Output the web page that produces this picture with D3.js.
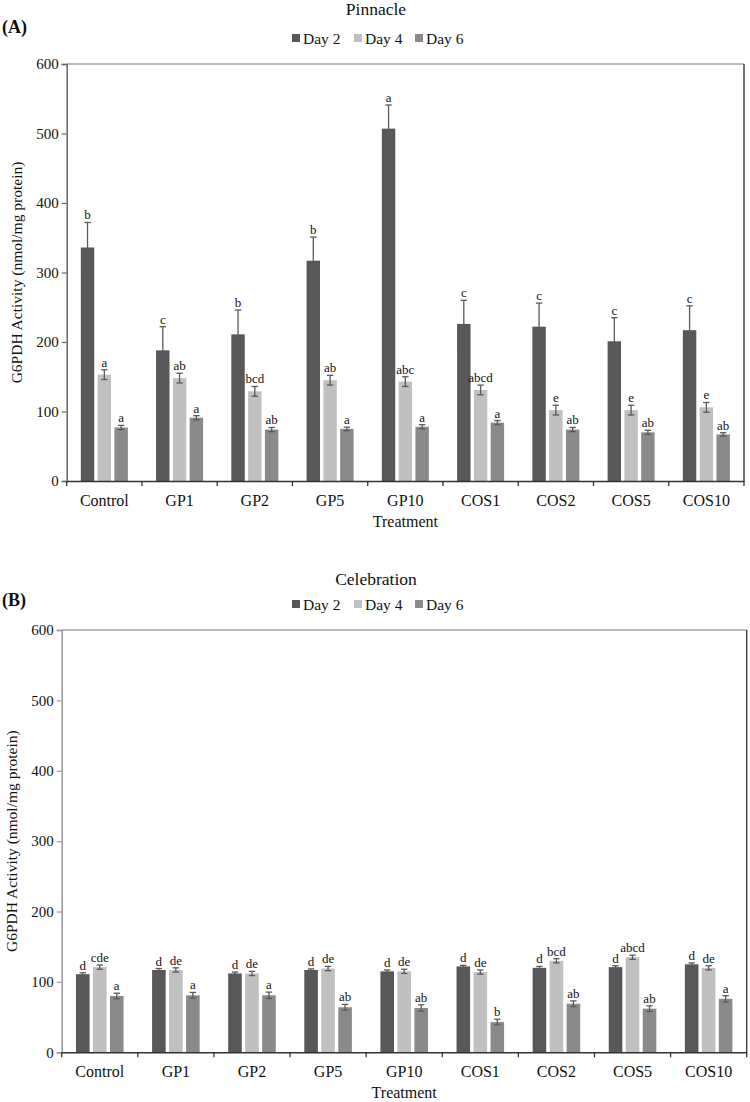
<!DOCTYPE html>
<html>
<head>
<meta charset="utf-8">
<script src="https://cdn.jsdelivr.net/npm/d3@7"></script>
<style>
  html, body { margin: 0; padding: 0; background: #fff; }
  svg { display: block; }
  text { font-family: "Liberation Serif", "Times New Roman", serif; fill: #111; }
</style>
</head>
<body>
<svg id="chart" width="750" height="1102"></svg>
<script>
// ---------- data ----------
const categories = ["Control", "GP1", "GP2", "GP5", "GP10", "COS1", "COS2", "COS5", "COS10"];
const series = ["Day 2", "Day 4", "Day 6"];
const yTicks = [0, 100, 200, 300, 400, 500, 600];

// Panel A: Pinnacle
const pinnacleDay2 = [336, 188, 211, 317, 507, 226, 222, 201, 217];
const pinnacleDay4 = [153, 148, 129, 145, 143, 131, 102, 102, 106];
const pinnacleDay6 = [77, 91, 74, 75, 78, 84, 74, 70, 67];
const pinnacleErr2 = [36, 34, 35, 34, 34, 34, 34, 34, 35];
const pinnacleErr4 = [7, 7, 7, 7, 7, 7, 7, 7, 7];
const pinnacleErr6 = [3, 3, 3, 2.5, 3, 3, 3, 3, 2.5];
const pinnacleLet2 = ["b", "c", "b", "b", "a", "c", "c", "c", "c"];
const pinnacleLet4 = ["a", "ab", "bcd", "ab", "abc", "abcd", "e", "e", "e"];
const pinnacleLet6 = ["a", "a", "ab", "a", "a", "a", "ab", "ab", "ab"];

// Panel B: Celebration
const celebrationDay2 = [111, 117, 112, 117, 115, 122, 120, 121, 125];
const celebrationDay4 = [121, 117, 112, 119, 115, 114, 130, 135, 120];
const celebrationDay6 = [80, 81, 81, 64, 63, 43, 69, 62, 76];
const celebrationErr2 = [2, 2, 2, 1.5, 2, 1.5, 2, 2, 2];
const celebrationErr4 = [3, 3, 3, 3, 3, 3, 3, 3, 3];
const celebrationErr6 = [4, 4, 4.5, 4, 4.5, 4, 4, 4, 4.5];
const celebrationLet2 = ["d", "d", "d", "d", "d", "d", "d", "d", "d"];
const celebrationLet4 = ["cde", "de", "de", "de", "de", "de", "bcd", "abcd", "de"];
const celebrationLet6 = ["a", "a", "a", "ab", "ab", "b", "ab", "ab", "a"];

const colors = ["#585858", "#c0c0c0", "#8a8a8a"];

// ---------- drawing ----------
const svg = d3.select("#chart");
const FONT = "Liberation Serif, Times New Roman, serif";

function buildRows(d2, d4, d6, e2, e4, e6, l2, l4, l6) {
  const vals = [d2, d4, d6], errs = [e2, e4, e6], lets = [l2, l4, l6];
  return categories.map((c, i) => ({
    cat: c,
    bars: series.map((s, j) => ({ s, j, v: vals[j][i], e: errs[j][i], l: lets[j][i] }))
  }));
}

function drawPanel(opt) {
  const { rows, left, right, top, bottom, title, tag, titleY, tagY, legendY, catY, xTitleY, yTitleX, axisColor } = opt;
  const g = svg.append("g");

  const x = d3.scaleBand().domain(categories).range([left, right]).padding(0);
  const xs = d3.scaleBand().domain(series).range([0, x.bandwidth()]).paddingInner(0.2).paddingOuter(0.84);
  const y = d3.scaleLinear().domain([0, 600]).range([bottom, top]);

  // frame top and right
  g.append("line").attr("x1", left).attr("x2", right).attr("y1", top).attr("y2", top)
    .attr("stroke", "#777").attr("stroke-width", 1.2);
  g.append("line").attr("x1", right).attr("x2", right).attr("y1", top).attr("y2", bottom)
    .attr("stroke", "#444").attr("stroke-width", 1.5);

  // y axis
  const ya = g.append("g").attr("transform", `translate(${left},0)`)
    .call(d3.axisLeft(y).tickValues(yTicks).tickSize(5).tickPadding(3).tickFormat(d3.format("d")));
  ya.select(".domain").attr("stroke", axisColor).attr("stroke-width", 1.5);
  ya.selectAll(".tick line").attr("stroke", axisColor).attr("stroke-width", 1.2);
  ya.selectAll(".tick text").style("font-size", "15px").style("font-family", FONT).attr("fill", "#111");

  // bars
  const grp = g.selectAll(".grp").data(rows).join("g").attr("transform", d => `translate(${x(d.cat)},0)`);
  grp.selectAll("rect").data(d => d.bars).join("rect")
    .attr("x", d => xs(d.s)).attr("width", xs.bandwidth())
    .attr("y", d => y(d.v)).attr("height", d => y(0) - y(d.v))
    .attr("fill", d => colors[d.j]);

  // error bars
  const cap = 3.2;
  const eb = grp.selectAll(".eb").data(d => d.bars).join("g").attr("class", "eb")
    .attr("stroke", "#5a5a5a").attr("stroke-width", 1.3);
  eb.append("line").attr("x1", d => xs(d.s) + xs.bandwidth() / 2).attr("x2", d => xs(d.s) + xs.bandwidth() / 2)
    .attr("y1", d => y(d.v + d.e)).attr("y2", d => y(d.v - d.e));
  eb.append("line").attr("x1", d => xs(d.s) + xs.bandwidth() / 2 - cap).attr("x2", d => xs(d.s) + xs.bandwidth() / 2 + cap)
    .attr("y1", d => y(d.v + d.e)).attr("y2", d => y(d.v + d.e));
  eb.append("line").attr("x1", d => xs(d.s) + xs.bandwidth() / 2 - cap).attr("x2", d => xs(d.s) + xs.bandwidth() / 2 + cap)
    .attr("y1", d => y(d.v - d.e)).attr("y2", d => y(d.v - d.e));

  // letters
  grp.selectAll(".let").data(d => d.bars).join("text").attr("class", "let")
    .attr("x", d => xs(d.s) + xs.bandwidth() / 2)
    .attr("y", d => y(d.v + d.e) - 3)
    .attr("text-anchor", "middle")
    .style("font-size", "13px")
    .text(d => d.l);

  // x axis
  const xa = g.append("g").attr("transform", `translate(0,${bottom})`)
    .call(d3.axisBottom(x).tickSize(0).tickFormat(() => ""));
  xa.select(".domain").attr("stroke", "#333").attr("stroke-width", 1.5);
  const bounds = categories.map(c => x(c)).concat([right]);
  g.selectAll(".bt").data(bounds).join("line").attr("class", "bt")
    .attr("x1", d => d).attr("x2", d => d).attr("y1", bottom).attr("y2", bottom + 5)
    .attr("stroke", "#333").attr("stroke-width", 1.3);
  g.selectAll(".cl").data(categories).join("text").attr("class", "cl")
    .attr("x", d => x(d) + x.bandwidth() / 2).attr("y", catY)
    .attr("text-anchor", "middle").style("font-size", "16px").text(d => d);

  // axis titles
  g.append("text").attr("x", (left + right) / 2).attr("y", xTitleY)
    .attr("text-anchor", "middle").style("font-size", "16px").text("Treatment");
  g.append("text").attr("transform", `translate(${yTitleX},${(top + bottom) / 2}) rotate(-90)`)
    .attr("text-anchor", "middle").style("font-size", "15.5px").text("G6PDH Activity (nmol/mg protein)");

  // title & tag
  g.append("text").attr("x", 376).attr("y", titleY).attr("text-anchor", "middle")
    .style("font-size", "17.5px").text(title);
  g.append("text").attr("x", 2).attr("y", tagY).style("font-size", "18px").style("font-weight", "bold").text(tag);

  // legend
  const lg = g.append("g").attr("transform", `translate(292,${legendY})`);
  const offs = [0, 62, 123];
  series.forEach((s, j) => {
    lg.append("rect").attr("x", offs[j]).attr("y", -10).attr("width", 8).attr("height", 8).attr("fill", colors[j]);
    lg.append("text").attr("x", offs[j] + 11).attr("y", 0).style("font-size", "15.5px").text(s);
  });
}

drawPanel({
  rows: buildRows(pinnacleDay2, pinnacleDay4, pinnacleDay6, pinnacleErr2, pinnacleErr4, pinnacleErr6, pinnacleLet2, pinnacleLet4, pinnacleLet6),
  left: 66.7, right: 744, top: 64, bottom: 481,
  title: "Pinnacle", tag: "(A)", titleY: 15, tagY: 33, legendY: 44,
  catY: 506, xTitleY: 527, yTitleX: 22, axisColor: "#666"
});

drawPanel({
  rows: buildRows(celebrationDay2, celebrationDay4, celebrationDay6, celebrationErr2, celebrationErr4, celebrationErr6, celebrationLet2, celebrationLet4, celebrationLet6),
  left: 61.7, right: 746.7, top: 630, bottom: 1052.3,
  title: "Celebration", tag: "(B)", titleY: 585, tagY: 606, legendY: 610,
  catY: 1077, xTitleY: 1098, yTitleX: 17, axisColor: "#999"
});
</script>
</body>
</html>
